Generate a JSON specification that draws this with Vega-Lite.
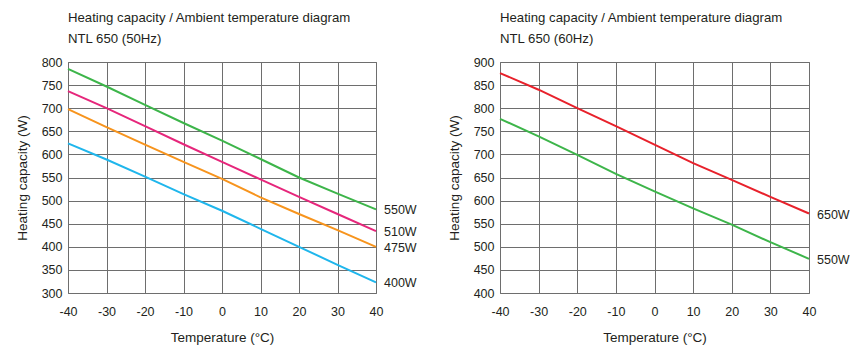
{
  "$schema": "https://vega.github.io/schema/vega-lite/v6.json",
  "padding": {"left": 14, "top": 10, "right": 0, "bottom": 0},
  "spacing": 28,
  "background": "white",
  "config": {
    "font": "Liberation Sans, Arial",
    "view": {"stroke": "#6e6e6e", "strokeWidth": 1},
    "axis": {"grid": true, "gridColor": "#6e6e6e", "gridOpacity": 1, "gridWidth": 1, "ticks": false, "domain": false, "labelFlush": false, "labelOverlap": false, "labelFontSize": 12.5, "labelColor": "#231f20", "titleFontSize": 13.5, "titleFontWeight": "normal", "titleColor": "#231f20"},
    "title": {"anchor": "start", "frame": "group", "fontSize": 13.2, "fontWeight": "normal", "color": "#231f20", "offset": 10, "lineHeight": 21},
    "text": {"font": "Liberation Sans, Arial"}
  },
  "resolve": {"scale": {"color": "independent"}},
  "datasets": {
    "d50": [
      {"series": "550W", "t": -40, "cap": 785}, {"series": "550W", "t": -30, "cap": 747}, {"series": "550W", "t": -20, "cap": 707}, {"series": "550W", "t": -10, "cap": 668}, {"series": "550W", "t": 0, "cap": 630}, {"series": "550W", "t": 10, "cap": 590}, {"series": "550W", "t": 20, "cap": 550}, {"series": "550W", "t": 30, "cap": 515}, {"series": "550W", "t": 40, "cap": 481},
      {"series": "510W", "t": -40, "cap": 737}, {"series": "510W", "t": -30, "cap": 700}, {"series": "510W", "t": -20, "cap": 661}, {"series": "510W", "t": -10, "cap": 622}, {"series": "510W", "t": 0, "cap": 584}, {"series": "510W", "t": 10, "cap": 546}, {"series": "510W", "t": 20, "cap": 508}, {"series": "510W", "t": 30, "cap": 471}, {"series": "510W", "t": 40, "cap": 434},
      {"series": "475W", "t": -40, "cap": 698}, {"series": "475W", "t": -30, "cap": 659}, {"series": "475W", "t": -20, "cap": 621}, {"series": "475W", "t": -10, "cap": 584}, {"series": "475W", "t": 0, "cap": 547}, {"series": "475W", "t": 10, "cap": 507}, {"series": "475W", "t": 20, "cap": 471}, {"series": "475W", "t": 30, "cap": 436}, {"series": "475W", "t": 40, "cap": 400},
      {"series": "400W", "t": -40, "cap": 624}, {"series": "400W", "t": -30, "cap": 589}, {"series": "400W", "t": -20, "cap": 552}, {"series": "400W", "t": -10, "cap": 514}, {"series": "400W", "t": 0, "cap": 478}, {"series": "400W", "t": 10, "cap": 439}, {"series": "400W", "t": 20, "cap": 400}, {"series": "400W", "t": 30, "cap": 361}, {"series": "400W", "t": 40, "cap": 323}
    ],
    "d60": [
      {"series": "650W", "t": -40, "cap": 876}, {"series": "650W", "t": -30, "cap": 840}, {"series": "650W", "t": -20, "cap": 800}, {"series": "650W", "t": -10, "cap": 761}, {"series": "650W", "t": 0, "cap": 721}, {"series": "650W", "t": 10, "cap": 681}, {"series": "650W", "t": 20, "cap": 645}, {"series": "650W", "t": 30, "cap": 608}, {"series": "650W", "t": 40, "cap": 572},
      {"series": "550W", "t": -40, "cap": 777}, {"series": "550W", "t": -30, "cap": 739}, {"series": "550W", "t": -20, "cap": 699}, {"series": "550W", "t": -10, "cap": 658}, {"series": "550W", "t": 0, "cap": 620}, {"series": "550W", "t": 10, "cap": 583}, {"series": "550W", "t": 20, "cap": 548}, {"series": "550W", "t": 30, "cap": 510}, {"series": "550W", "t": 40, "cap": 474}
    ]
  },
  "hconcat": [
    {
      "width": 308, "height": 231,
      "title": {"text": ["Heating capacity / Ambient temperature diagram", "NTL 650 (50Hz)"]},
      "data": {"name": "d50"},
      "encoding": {
        "x": {"field": "t", "type": "quantitative", "scale": {"domain": [-40, 40], "nice": false}, "axis": {"values": [-40, -30, -20, -10, 0, 10, 20, 30, 40], "labelExpr": "replace(datum.label, '−', '-')", "title": "Temperature (°C)", "labelPadding": 12, "titlePadding": 13}},
        "y": {"field": "cap", "type": "quantitative", "scale": {"domain": [300, 800], "zero": false, "nice": false}, "axis": {"values": [300, 350, 400, 450, 500, 550, 600, 650, 700, 750, 800], "title": "Heating capacity (W)", "labelPadding": 6, "titlePadding": 12}}
      },
      "layer": [
        {"mark": {"type": "line", "strokeWidth": 2}, "encoding": {"color": {"field": "series", "type": "nominal", "scale": {"domain": ["550W", "510W", "475W", "400W"], "range": ["#3db54a", "#e6267b", "#f7941d", "#1fb6ec"]}, "legend": null}}},
        {"transform": [{"filter": "datum.t == 40"}], "mark": {"type": "text", "align": "left", "dx": 8, "dy": 1, "fontSize": 12.5, "color": "#231f20"}, "encoding": {"text": {"field": "series"}}}
      ]
    },
    {
      "width": 309, "height": 231,
      "title": {"text": ["Heating capacity / Ambient temperature diagram", "NTL 650 (60Hz)"]},
      "data": {"name": "d60"},
      "encoding": {
        "x": {"field": "t", "type": "quantitative", "scale": {"domain": [-40, 40], "nice": false}, "axis": {"values": [-40, -30, -20, -10, 0, 10, 20, 30, 40], "labelExpr": "replace(datum.label, '−', '-')", "title": "Temperature (°C)", "labelPadding": 12, "titlePadding": 13}},
        "y": {"field": "cap", "type": "quantitative", "scale": {"domain": [400, 900], "zero": false, "nice": false}, "axis": {"values": [400, 450, 500, 550, 600, 650, 700, 750, 800, 850, 900], "title": "Heating capacity (W)", "labelPadding": 6, "titlePadding": 12}}
      },
      "layer": [
        {"mark": {"type": "line", "strokeWidth": 2}, "encoding": {"color": {"field": "series", "type": "nominal", "scale": {"domain": ["650W", "550W"], "range": ["#e8212b", "#3db54a"]}, "legend": null}}},
        {"transform": [{"filter": "datum.t == 40"}], "mark": {"type": "text", "align": "left", "dx": 8, "dy": 1, "fontSize": 12.5, "color": "#231f20"}, "encoding": {"text": {"field": "series"}}}
      ]
    }
  ]
}
